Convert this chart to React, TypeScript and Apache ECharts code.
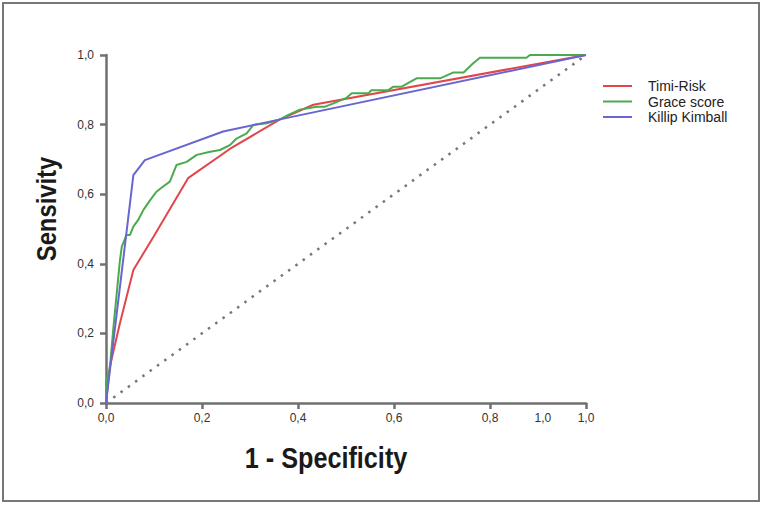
import React, { useEffect, useRef } from "react";
import * as echarts from "echarts";

const timiX = [0, 0.008, 0.029, 0.057, 0.099, 0.171, 0.258, 0.3625, 0.432, 1.0];
const timiY = [0, 0.104, 0.229, 0.382, 0.478, 0.646, 0.73, 0.815, 0.857, 1.0];

const graceX = [0, 0, 0.008, 0.015, 0.029, 0.033, 0.043, 0.05, 0.057, 0.067, 0.078, 0.092, 0.105, 0.119, 0.133, 0.147, 0.168, 0.189, 0.217, 0.2375, 0.258, 0.272, 0.293, 0.307, 0.335, 0.3625, 0.38, 0.404, 0.439, 0.455, 0.474, 0.5, 0.512, 0.547, 0.553, 0.588, 0.599, 0.616, 0.647, 0.696, 0.724, 0.745, 0.765, 0.779, 0.876, 0.883, 1.0];
const graceY = [0, 0.06, 0.1, 0.21, 0.41, 0.45, 0.483, 0.483, 0.507, 0.526, 0.555, 0.583, 0.607, 0.622, 0.636, 0.684, 0.693, 0.713, 0.722, 0.727, 0.741, 0.76, 0.775, 0.799, 0.804, 0.815, 0.828, 0.843, 0.851, 0.851, 0.861, 0.876, 0.89, 0.89, 0.899, 0.899, 0.909, 0.909, 0.933, 0.933, 0.95, 0.95, 0.976, 0.992, 0.992, 1.0, 1.0];

const killipX = [0, 0.057, 0.081, 0.244, 0.3625, 1.0];
const killipY = [0, 0.655, 0.698, 0.78, 0.815, 1.0];

const refX = [0, 1];
const refY = [0, 1];

const seriesNames = ["Timi-Risk", "Grace score", "Killip Kimball"];
const seriesColors = ["#e2464b", "#4aab4e", "#6767cf"];

const xLabelPositions = [0, 0.2, 0.4, 0.6, 0.8, 0.91, 1.0];
const xTickLabels = ["0,0", "0,2", "0,4", "0,6", "0,8", "1,0", "1,0"];
const xTickPositions = [0, 0.2, 0.4, 0.6, 0.8, 1.0];
const yTickPositions = [0, 0.2, 0.4, 0.6, 0.8, 1.0];
const yTickLabels = ["0,0", "0,2", "0,4", "0,6", "0,8", "1,0"];

const xTitle = "1 - Specificity";
const yTitle = "Sensivity";

const zip = (xs: number[], ys: number[]) => xs.map((x, i) => [x, ys[i]]);

export default function App() {
  const ref = useRef<HTMLDivElement>(null);
  useEffect(() => {
    document.body.style.margin = "0";
    const chart = echarts.init(ref.current!, undefined, { renderer: "svg" });
    const axisColor = "#707070";
    const font = "'Liberation Sans', Arial, sans-serif";
    const titleFont = "'Liberation Sans', Arial, sans-serif";
    const lineData = [zip(timiX, timiY), zip(graceX, graceY), zip(killipX, killipY)];
    chart.setOption({
      animation: false,
      backgroundColor: "#ffffff",
      textStyle: { fontFamily: font },
      grid: { left: 106, top: 55, width: 480, height: 348 },
      legend: {
        orient: "vertical",
        left: 603,
        top: 79,
        padding: 0,
        itemWidth: 29,
        itemHeight: 2,
        itemGap: 1.5,
        icon: "rect",
        data: seriesNames,
        textStyle: { fontSize: 14, color: "#222", fontFamily: font, lineHeight: 14, padding: [0, 0, 0, 11] },
      },
      xAxis: {
        type: "value",
        min: 0,
        max: 1,
        splitLine: { show: false },
        axisLine: { show: true, onZero: false, lineStyle: { color: axisColor, width: 2.5 } },
        axisTick: { show: true, length: 6, lineStyle: { color: axisColor, width: 2.5 }, customValues: xTickPositions },
        axisLabel: {
          margin: 9,
          fontSize: 12,
          color: "#333",
          fontFamily: font,
          hideOverlap: false,
          customValues: xLabelPositions,
          formatter: (v: number) => {
            const i = xLabelPositions.findIndex((p) => Math.abs(p - v) < 1e-6);
            return i >= 0 ? xTickLabels[i] : "";
          },
        },
      },
      yAxis: {
        type: "value",
        min: 0,
        max: 1,
        splitLine: { show: false },
        axisLine: { show: true, onZero: false, lineStyle: { color: axisColor, width: 2.5 } },
        axisTick: { show: true, length: 6, lineStyle: { color: axisColor, width: 2.5 }, customValues: yTickPositions },
        axisLabel: {
          margin: 12,
          fontSize: 12,
          color: "#333",
          fontFamily: font,
          customValues: yTickPositions,
          formatter: (v: number) => {
            const i = yTickPositions.findIndex((p) => Math.abs(p - v) < 1e-6);
            return i >= 0 ? yTickLabels[i] : "";
          },
        },
      },
      series: [
        {
          name: "ref",
          type: "line",
          data: zip(refX, refY),
          symbol: "none",
          silent: true,
          lineStyle: { color: "#777", width: 2.5, type: [2.5, 6.5] },
          z: 1,
        },
        ...seriesNames.map((n, i) => ({
          name: n,
          type: "line",
          data: lineData[i],
          symbol: "none",
          color: seriesColors[i],
          lineStyle: { color: seriesColors[i], width: 2 },
          z: 2 + i,
        })),
      ],
      graphic: [
        {
          type: "rect",
          shape: { x: 3, y: 3, width: 756, height: 498 },
          style: { fill: "none", stroke: "#777", lineWidth: 2 },
          silent: true,
        },
        {
          type: "text",
          x: 46,
          y: 209,
          rotation: Math.PI / 2,
          scaleX: 0.85,
          style: {
            text: yTitle,
            font: `bold 28px ${titleFont}`,
            fill: "#1a1a1a",
            align: "center",
            verticalAlign: "middle",
          },
        },
        {
          type: "text",
          x: 326,
          y: 458,
          scaleX: 0.87,
          style: {
            text: xTitle,
            font: `bold 29px ${titleFont}`,
            fill: "#1a1a1a",
            align: "center",
            verticalAlign: "middle",
          },
        },
      ],
    });
    return () => chart.dispose();
  }, []);
  return <div ref={ref} style={{ position: "absolute", left: 0, top: 0, width: 762, height: 505 }} />;
}
